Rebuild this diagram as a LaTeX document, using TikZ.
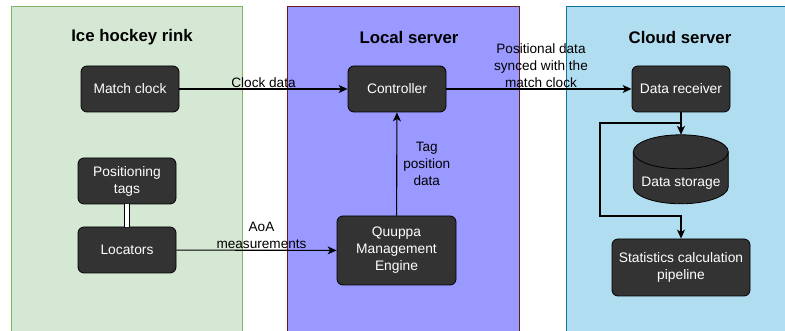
\documentclass[tikz,border=0pt]{standalone}
\usepackage{fontspec}
\setsansfont{Liberation Sans}
\usetikzlibrary{arrows.meta}
\definecolor{rinkfill}{HTML}{D5E8D4}
\definecolor{rinkline}{HTML}{82B366}
\definecolor{localfill}{HTML}{9999FF}
\definecolor{localline}{HTML}{6B1A1A}
\definecolor{cloudfill}{HTML}{B1DDF0}
\definecolor{cloudline}{HTML}{10739E}
\definecolor{boxgray}{HTML}{333333}
\tikzset{
  panel/.style = {line width=1pt},
  ptitle/.style = {font=\sffamily\bfseries\fontsize{16.8}{20}\selectfont},
  bnode/.style = {align=center, inner sep=0pt, text=white, font=\sffamily\fontsize{13.8}{17}\selectfont},
  box/.style = {bnode, rectangle, fill=boxgray, draw=black, line width=0.8pt, rounded corners=6pt,
    minimum width=98pt, minimum height=46pt},
  drum/.style = {fill=boxgray, draw=black, line width=0.8pt},
  elabel/.style = {align=center, inner sep=1pt, font=\sffamily\fontsize{13.6}{17}\selectfont},
  flow/.style = {-{Stealth[length=9pt,width=8pt,inset=2.5pt]}, line width=1.1pt}
}

\begin{document}
\begin{tikzpicture}[x=1pt, y=-1pt]
\useasboundingbox (0,0) rectangle (785,331);
\draw[panel, fill=rinkfill, draw=rinkline] (11,7) rectangle (242,334);
\draw[panel, fill=localfill, draw=localline] (287,7) rectangle (519,334);
\draw[panel, fill=cloudfill, draw=cloudline] (566,7) rectangle (790,334);
\node[ptitle] (rink) at (132,37) {Ice hockey rink};
\node[ptitle] (local) at (409,37) {Local server};
\node[ptitle] (cloud) at (680,37) {Cloud server};

\node[box] (clock) at (130,89) {Match clock};
\node[box] (tags) at (127,181) {Positioning\\tags};
\node[box] (loc) at (127,250) {Locators};
\node[box] (ctrl) at (397,89) {Controller};
\node[box, minimum width=119pt, minimum height=69pt] (qme) at (396.5,250.5) {Quuppa\\Management\\Engine};
\node[box] (recv) at (681,89) {Data receiver};
\node[bnode, minimum width=95pt, minimum height=69pt] (db) at (681,169.5) {};
\draw[drum] (db.north west) ++(0,17) -- ++(0,35)
  arc[start angle=180, end angle=0, x radius=47.5, y radius=17] -- ++(0,-35)
  arc[start angle=360, end angle=180, x radius=47.5, y radius=17] -- cycle;
\draw[drum, fill=none] (db.north west) ++(0,17) arc[start angle=180, end angle=0, x radius=47.5, y radius=17];
\node[bnode] (dbname) at (681,183) {Data storage};
\node[box, minimum width=138pt, minimum height=57pt] (stats) at (681,267.5) {Statistics calculation\\pipeline};
\coordinate (bendtop) at (600,123);
\coordinate (bendbot) at (600,216);

\draw[flow] (clock) -- node[elabel, above] {Clock data} (ctrl);
\draw[flow] (loc) -- node[elabel, above, xshift=5pt] {AoA\\measurements} (qme);
\draw[flow] (qme) -- node[elabel, right, xshift=5pt] {Tag\\position\\data} (ctrl);
\draw[flow] (ctrl) -- node[elabel, above, xshift=2pt] {Positional data\\synced with the\\match clock} (recv);
\draw[line width=1pt, double, double distance=3.5pt] (tags) -- (loc);
\draw[flow] (recv) -- (db);
\draw[flow] (recv.south) |- (bendtop) -- (bendbot) -| (stats.north);
\end{tikzpicture}
\end{document}
